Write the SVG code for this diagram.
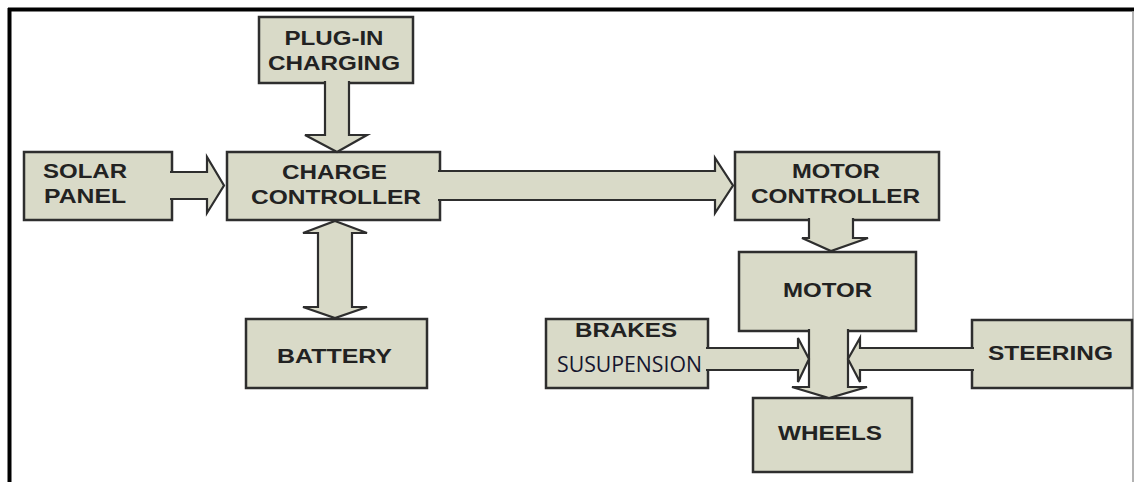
<svg xmlns="http://www.w3.org/2000/svg" width="1134" height="482" viewBox="0 0 1134 482">
<style>
.box{fill:#d9dac8;stroke:#2e2e2e;stroke-width:2.5}
.arr{fill:#d9dac8;stroke:#2e2e2e;stroke-width:2.2;stroke-linejoin:miter}
.t{font-family:"Liberation Sans",Arial,sans-serif;font-weight:bold;font-size:21px;fill:#222;text-anchor:middle}
.s{font-family:"Open Sans","Noto Sans",sans-serif;font-size:22px;fill:#15152e}
</style>
<rect x="0" y="0" width="1134" height="482" fill="#fff"/>
<g id="frame">
<line x1="8" y1="9.5" x2="1134" y2="9.5" stroke="#000" stroke-width="4"/>
<line x1="9.5" y1="8" x2="9.5" y2="482" stroke="#000" stroke-width="4"/>
<line x1="1133" y1="11" x2="1133" y2="482" stroke="#999" stroke-width="1.5"/>
</g>
<g id="plug-in-charging"><rect class="box" x="259" y="17" width="154" height="66"/>
<text class="t" x="334" y="45" textLength="99" lengthAdjust="spacingAndGlyphs">PLUG-IN</text>
<text class="t" x="334" y="70" textLength="132" lengthAdjust="spacingAndGlyphs">CHARGING</text></g>
<g id="solar-panel"><rect class="box" x="24" y="152" width="148" height="68"/>
<text class="t" x="85" y="178" textLength="84" lengthAdjust="spacingAndGlyphs">SOLAR</text>
<text class="t" x="85" y="203" textLength="82" lengthAdjust="spacingAndGlyphs">PANEL</text></g>
<g id="charge-controller"><rect class="box" x="227" y="152" width="213" height="68"/>
<text class="t" x="334.5" y="179" textLength="105" lengthAdjust="spacingAndGlyphs">CHARGE</text>
<text class="t" x="336" y="204" textLength="170" lengthAdjust="spacingAndGlyphs">CONTROLLER</text></g>
<g id="motor-controller"><rect class="box" x="735" y="152" width="204" height="68"/>
<text class="t" x="836" y="178" textLength="88" lengthAdjust="spacingAndGlyphs">MOTOR</text>
<text class="t" x="835.5" y="203" textLength="169" lengthAdjust="spacingAndGlyphs">CONTROLLER</text></g>
<g id="motor"><rect class="box" x="739" y="252" width="177" height="79"/>
<text class="t" x="827.5" y="297" textLength="89" lengthAdjust="spacingAndGlyphs">MOTOR</text></g>
<g id="battery"><rect class="box" x="246" y="319" width="181" height="69"/>
<text class="t" x="334.5" y="363" textLength="115" lengthAdjust="spacingAndGlyphs">BATTERY</text></g>
<g id="brakes-suspension"><rect class="box" x="546" y="319" width="162" height="69"/>
<text class="t" x="626" y="337" textLength="102" lengthAdjust="spacingAndGlyphs">BRAKES</text>
<text class="s" x="557" y="372" textLength="145" lengthAdjust="spacingAndGlyphs">SUSUPENSION</text></g>
<g id="wheels"><rect class="box" x="753" y="398" width="159" height="74"/>
<text class="t" x="830" y="440" textLength="104" lengthAdjust="spacingAndGlyphs">WHEELS</text></g>
<g id="steering"><rect class="box" x="972" y="320" width="160" height="68"/>
<text class="t" x="1050.5" y="360" textLength="125" lengthAdjust="spacingAndGlyphs">STEERING</text></g>
<g id="connectors">
<path class="arr" d="M325,81 V135 H305 L337,152 L367,135 H349 V81"/>
<path class="arr" d="M170,172 H207 V157 L224,185.5 L207,213 V199 H170"/>
<path class="arr" d="M438,171 H715 V158 L733,185.5 L715,213 V200 H438"/>
<path class="arr" d="M335,221 L367,233 H352 V307 H367 L335,318 L303,307 H318 V233 H303 Z"/>
<path class="arr" d="M809,218 V238 H802 L831,251 L868,238 H853 V218"/>
<path class="arr" d="M809,329 V387 H792 L829,398 L867,387 H848 V329"/>
<path class="arr" d="M706,348 H798 V338 L809,359 L798,382 V370 H706"/>
<path class="arr" d="M974,348 H860 V338 L848,359 L860,382 V370 H974"/>
</g>
</svg>
